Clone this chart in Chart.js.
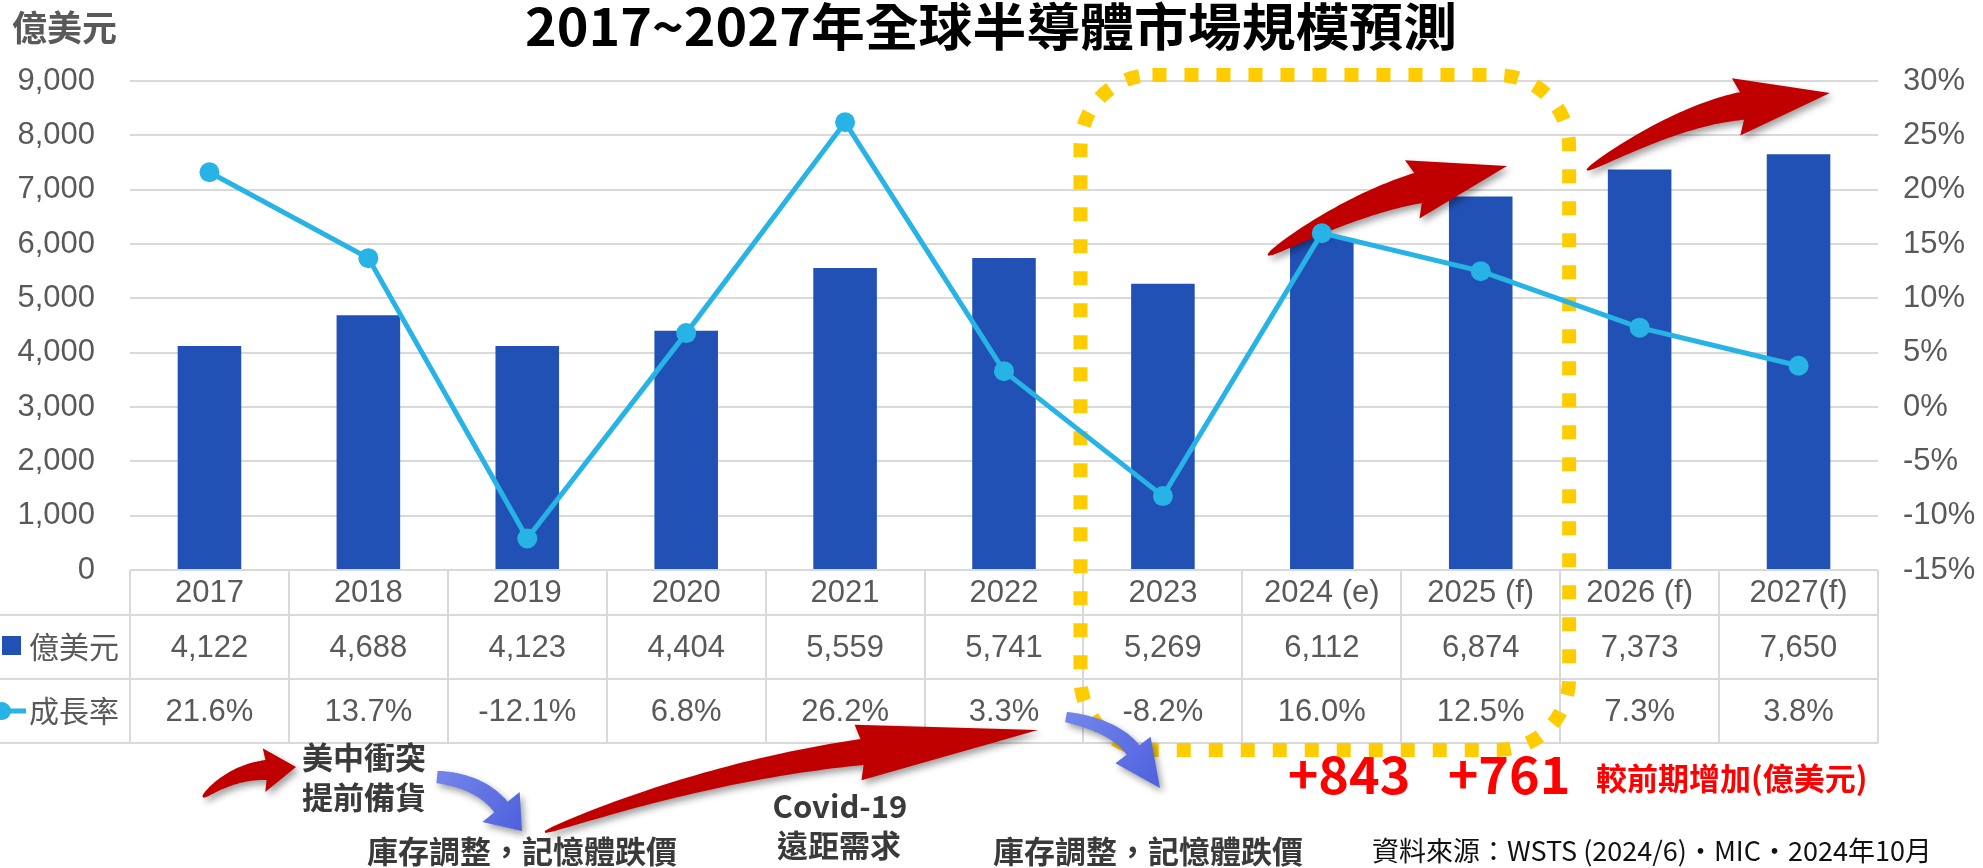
<!DOCTYPE html>
<html>
<head>
<meta charset="utf-8">
<script src="https://cdn.jsdelivr.net/npm/chart.js@4.4.1/dist/chart.umd.min.js"></script>
<style>
  html, body { margin: 0; padding: 0; background: #fff; overflow: hidden; }
  canvas { display: block; }
</style>
</head>
<body>
<canvas id="chart" width="1983" height="868"></canvas>
<script>
// data
const years = ["2017", "2018", "2019", "2020", "2021", "2022", "2023", "2024 (e)", "2025 (f)", "2026 (f)", "2027(f)"];
const revenue = [4122, 4688, 4123, 4404, 5559, 5741, 5269, 6112, 6874, 7373, 7650];
const growth = [21.6, 13.7, -12.1, 6.8, 26.2, 3.3, -8.2, 16.0, 12.5, 7.3, 3.8];
const revenueName = "億美元";
const growthName = "成長率";
const revenueAxis = [0, 9000, 1000];   // min, max, step
const growthAxis = [-15, 30, 5];
const increases = ["+843", "+761"];

const BAR = "#2151b5";
const LINE = "#27b3e6";
const GREY = "#595959";
const SANS = '"Liberation Sans", Arial, sans-serif';
const CJK = '"Noto Sans CJK TC", "Noto Sans CJK SC", sans-serif';

const fmt = v => v.toLocaleString("en-US");

function curvedArrow(ctx, a) {
  const [t, c, b, p] = [a.tail, a.ctrl, a.base, a.tip];
  const n = 40, L = [], R = [];
  for (let i = 0; i <= n; i++) {
    const s = i / n, u = 1 - s;
    const x = u * u * t[0] + 2 * u * s * c[0] + s * s * b[0];
    const y = u * u * t[1] + 2 * u * s * c[1] + s * s * b[1];
    const dx = 2 * u * (c[0] - t[0]) + 2 * s * (b[0] - c[0]);
    const dy = 2 * u * (c[1] - t[1]) + 2 * s * (b[1] - c[1]);
    const len = Math.hypot(dx, dy) || 1;
    const nx = -dy / len, ny = dx / len;
    const w = (a.w0 + (a.w1 - a.w0) * Math.pow(s, 0.6)) / 2;
    L.push([x + nx * w, y + ny * w]);
    R.push([x - nx * w, y - ny * w]);
  }
  const dx = b[0] - c[0], dy = b[1] - c[1];
  const len = Math.hypot(dx, dy);
  const nx = -dy / len, ny = dx / len;
  const back = a.back || 0;
  const bx = b[0] - dx / len * back, by = b[1] - dy / len * back;
  ctx.beginPath();
  ctx.moveTo(L[0][0], L[0][1]);
  L.forEach(q => ctx.lineTo(q[0], q[1]));
  ctx.lineTo(bx + nx * a.hw, by + ny * a.hw);
  ctx.lineTo(p[0], p[1]);
  ctx.lineTo(bx - nx * a.hw, by - ny * a.hw);
  for (let i = R.length - 1; i >= 0; i--) ctx.lineTo(R[i][0], R[i][1]);
  ctx.closePath();
  ctx.fill();
}

// text drawn at a given font, stretched sideways to a target width
function fitText(ctx, text, x, y, width) {
  const w = ctx.measureText(text).width;
  ctx.save();
  ctx.translate(x, y);
  ctx.scale(width / w, 1);
  ctx.fillText(text, 0, 0);
  ctx.restore();
}

const redArrows = [
  { tail: [1268, 255], ctrl: [1350, 205], base: [1418, 188], tip: [1507, 166], w0: 2, w1: 31, hw: 30, back: 6 },
  { tail: [1587, 170], ctrl: [1680, 115], base: [1742, 106], tip: [1830, 93], w0: 2, w1: 28, hw: 29, back: 6 },
  { tail: [545, 832], ctrl: [708, 771], base: [862, 752], tip: [1038, 730], w0: 2, w1: 26, hw: 28, back: 4 },
  { tail: [203, 797], ctrl: [232, 772], base: [266, 770], tip: [296, 767], w0: 2, w1: 20, hw: 22, back: 2 }
];
const blueArrows = [
  { tail: [437, 777], ctrl: [480, 781], base: [501, 807], tip: [522, 831], w0: 12, w1: 17, hw: 24, back: 0 },
  { tail: [1066, 717], ctrl: [1115, 726], base: [1133, 750], tip: [1160, 788], w0: 10, w1: 16, hw: 22, back: 0 }
];

const tablePlugin = {
  id: "dataTable",
  afterDatasetDraw(chart, args) {
    if (chart.data.datasets[args.index].type !== "bar") return;
    const ctx = chart.ctx, xs = chart.scales.x, area = chart.chartArea;
    const colW = xs.getPixelForValue(1) - xs.getPixelForValue(0);
    const top = area.bottom;
    const rows = [top, top + 45, top + 109, top + 173];
    ctx.save();
    ctx.strokeStyle = "#d9d9d9";
    ctx.lineWidth = 2;
    ctx.beginPath();
    ctx.moveTo(area.left, rows[0]); ctx.lineTo(area.right, rows[0]);
    for (let r = 1; r < rows.length; r++) { ctx.moveTo(0, rows[r]); ctx.lineTo(area.right, rows[r]); }
    for (let k = 0; k <= years.length; k++) {
      const x = Math.round(area.left + k * colW);
      ctx.moveTo(x, rows[0]); ctx.lineTo(x, rows[3]);
    }
    ctx.stroke();

    ctx.fillStyle = GREY;
    ctx.textAlign = "center";
    ctx.textBaseline = "middle";
    ctx.font = "31px " + SANS;
    years.forEach((y, i) => {
      const x = xs.getPixelForValue(i);
      ctx.fillText(y, x, (rows[0] + rows[1]) / 2 + 1);
      ctx.fillText(fmt(revenue[i]), x, (rows[1] + rows[2]) / 2 + 1);
      ctx.fillText(growth[i].toFixed(1) + "%", x, (rows[2] + rows[3]) / 2 + 1);
    });

    // legend keys inside the table
    const y2 = (rows[1] + rows[2]) / 2, y3 = (rows[2] + rows[3]) / 2;
    ctx.fillStyle = BAR;
    ctx.fillRect(2, y2 - 11, 19, 19);
    ctx.strokeStyle = LINE;
    ctx.lineWidth = 5;
    ctx.beginPath(); ctx.moveTo(0, y3); ctx.lineTo(26, y3); ctx.stroke();
    ctx.fillStyle = LINE;
    ctx.beginPath(); ctx.arc(2, y3, 9, 0, Math.PI * 2); ctx.fill();
    ctx.fillStyle = GREY;
    ctx.textAlign = "left";
    ctx.font = "30px " + CJK;
    ctx.fillText(revenueName, 29, y2);
    ctx.fillText(growthName, 29, y3);

    // dotted highlight around 2023-2025
    const bl = xs.getPixelForValue(6) - colW / 2 - 3;
    const br = xs.getPixelForValue(8) + colW / 2 + 9;
    ctx.strokeStyle = "#ffcc00";
    ctx.lineWidth = 14;
    ctx.setLineDash([14, 18]);
    ctx.beginPath();
    ctx.roundRect(bl, 75, br - bl, 675, 72);
    ctx.stroke();
    ctx.setLineDash([]);

    // arrows
    ctx.shadowColor = "rgba(0,0,0,0.38)";
    ctx.shadowBlur = 7;
    ctx.shadowOffsetX = 3;
    ctx.shadowOffsetY = 4;
    ctx.fillStyle = "#c00000";
    redArrows.forEach(a => curvedArrow(ctx, a));
    blueArrows.forEach(a => {
      const g = ctx.createLinearGradient(a.tail[0], a.tail[1], a.tip[0], a.tip[1]);
      g.addColorStop(0, "#7385ea");
      g.addColorStop(1, "#4f61dc");
      ctx.fillStyle = g;
      curvedArrow(ctx, a);
    });
    ctx.restore();
  },
  afterDraw(chart) {
    const ctx = chart.ctx;
    ctx.save();
    ctx.textBaseline = "middle";
    ctx.textAlign = "left";
    ctx.fillStyle = "#000";
    ctx.font = "bold 51px " + CJK;
    fitText(ctx, "2017~2027年全球半導體市場規模預測", 525, 27, 932);

    ctx.fillStyle = GREY;
    ctx.font = "bold 35px " + CJK;
    ctx.fillText(revenueName, 12, 28);

    ctx.fillStyle = "#3a3a3a";
    ctx.font = "bold 31px " + CJK;
    ctx.fillText("美中衝突", 302, 757);
    ctx.fillText("提前備貨", 302, 797);
    ctx.fillText("庫存調整，記憶體跌價", 367, 851);
    ctx.fillText("庫存調整，記憶體跌價", 993, 851);
    ctx.textAlign = "center";
    ctx.fillText("Covid-19", 840, 806);
    ctx.fillText("遠距需求", 839, 845);

    ctx.fillStyle = "#ff0000";
    ctx.font = "bold 52px " + CJK;
    ctx.fillText(increases[0], 1349, 774);
    ctx.fillText(increases[1], 1509, 774);
    ctx.textAlign = "left";
    ctx.font = "bold 31px " + CJK;
    ctx.fillText("較前期增加(億美元)", 1596, 778);

    ctx.fillStyle = "#111";
    ctx.font = "27px " + CJK;
    ctx.fillText("資料來源：WSTS (2024/6)‧MIC‧2024年10月", 1372, 851);
    ctx.restore();
  }
};

new Chart(document.getElementById("chart"), {
  data: {
    labels: years,
    datasets: [
      {
        type: "line", label: growthName, data: growth, yAxisID: "yR", order: 0,
        borderColor: LINE, backgroundColor: LINE, borderWidth: 5, tension: 0,
        pointRadius: 10, pointHoverRadius: 10, pointBackgroundColor: LINE, pointBorderWidth: 0
      },
      {
        type: "bar", label: revenueName, data: revenue, yAxisID: "y", order: 1,
        backgroundColor: BAR, barPercentage: 0.4, categoryPercentage: 1
      }
    ]
  },
  options: {
    responsive: false,
    animation: false,
    events: [],
    layout: { padding: { top: 81, bottom: 298, left: 0, right: 0 } },
    plugins: { legend: { display: false }, tooltip: { enabled: false } },
    scales: {
      x: { display: false },
      y: {
        position: "left", min: revenueAxis[0], max: revenueAxis[1],
        ticks: { stepSize: revenueAxis[2], padding: 35, color: GREY, font: { family: SANS, size: 31 }, callback: v => fmt(v) },
        grid: { color: "#d9d9d9", lineWidth: 2, drawTicks: false },
        border: { display: false },
        afterFit: s => { s.width = 130; }
      },
      yR: {
        position: "right", min: growthAxis[0], max: growthAxis[1],
        ticks: { stepSize: growthAxis[2], padding: 25, color: GREY, font: { family: SANS, size: 31 }, callback: v => v + "%" },
        grid: { display: false, drawTicks: false },
        border: { display: false },
        afterFit: s => { s.width = 105; }
      }
    }
  },
  plugins: [tablePlugin]
});
</script>
</body>
</html>
